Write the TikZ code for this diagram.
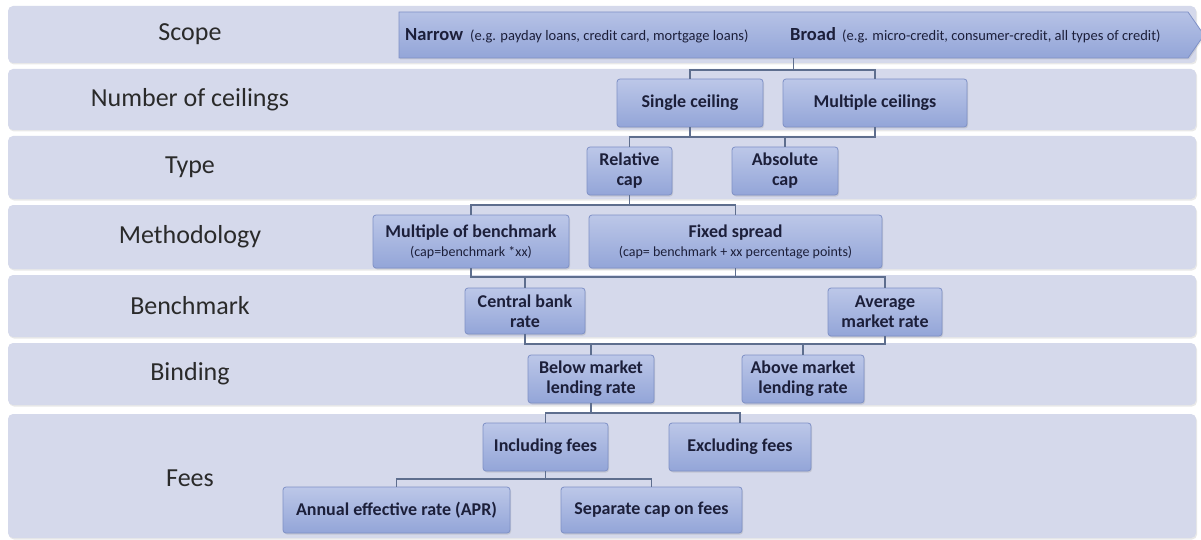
\documentclass[tikz,border=0pt]{standalone}
\usepackage{fontspec}
\setmainfont{Carlito}
\usetikzlibrary{shapes.symbols,shadows}
\definecolor{bandc}{HTML}{D5D9EB}
\definecolor{boxtop}{HTML}{BCC7E8}
\definecolor{boxbot}{HTML}{93A5D8}
\definecolor{boxborder}{HTML}{7F91C6}
\definecolor{boxtext}{HTML}{1C1F3A}
\definecolor{labtext}{HTML}{2A2A2A}
\definecolor{connc}{HTML}{5E6E8E}
\tikzset{
  band/.style={fill=bandc, rounded corners=5pt, drop shadow={opacity=0.18, shadow xshift=1pt, shadow yshift=-1.5pt}},
  lab/.style={text=labtext, font=\fontsize{26}{28}\selectfont, inner sep=0pt},
  cbox/.style={draw=boxborder, line width=0.8pt, rounded corners=3pt, top color=boxtop, bottom color=boxbot,
    font=\bfseries\fontsize{18}{20}\selectfont, text=boxtext, align=center, inner sep=0pt,
    drop shadow={opacity=0.22, shadow xshift=1pt, shadow yshift=-1.5pt}},
  conn/.style={draw=connc, line width=1.3pt},
  small/.style={font=\fontsize{14.5}{16}\selectfont, text=boxtext, inner sep=0pt, anchor=base west},
  big/.style={font=\bfseries\fontsize{18.5}{20}\selectfont, text=boxtext, inner sep=0pt, anchor=base west}
}
\begin{document}
\begin{tikzpicture}[x=1pt,y=-1pt]
\useasboundingbox (0,0) rectangle (1201,540);
\fill[white] (0,0) rectangle (1201,540);
% row bands
\foreach \t/\b in {6/63,69/130,136/199,205/269,275/337,343/405,414/538}
  \path[band] (8,\t) rectangle (1196,\b);
% row labels
\node[lab] (lscope) at (190,34.5) {Scope};
\node[lab] (lceil) at (190,99.5) {Number of ceilings};
\node[lab] (ltype) at (190,167.5) {Type};
\node[lab] (lmeth) at (190,237) {Methodology};
\node[lab] (lbench) at (190,306) {Benchmark};
\node[lab] (lbind) at (190,374) {Binding};
\node[lab] (lfees) at (190,478) {Fees};
% scope arrow
\node[signal, signal to=east, signal pointer angle=110, draw=boxborder, line width=0.8pt,
      top color=boxtop!85!boxbot, bottom color=boxbot, minimum width=805pt, minimum height=46pt,
      inner sep=0pt, drop shadow={opacity=0.2, shadow xshift=1pt, shadow yshift=-1.5pt}] (arrow) at (793.5,35) {};
\node[big] (narrow) at (405,41) {Narrow};
\node[small] (narrowx) at (470,41) {(e.g. payday loans, credit card, mortgage loans)};
\node[big] (broad) at (790,41) {Broad};
\node[small] (broadx) at (842,41) {(e.g. micro-credit, consumer-credit, all types of credit)};
% boxes
\node[cbox, minimum width=146pt, minimum height=48pt] (sc) at (690,103) {Single ceiling};
\node[cbox, minimum width=184pt, minimum height=48pt] (mc) at (875,103) {Multiple ceilings};
\node[cbox, minimum width=85pt, minimum height=48pt] (rc) at (629.5,171) {Relative\\cap};
\node[cbox, minimum width=106pt, minimum height=48pt] (ac) at (785,171) {Absolute\\cap};
\node[cbox, minimum width=196pt, minimum height=53pt] (mb) at (471,241.5) {Multiple of benchmark\\[-1pt]{\mdseries\fontsize{14}{16}\selectfont (cap=benchmark *xx)}};
\node[cbox, minimum width=293pt, minimum height=53pt] (fs) at (735.5,241.5) {Fixed spread\\[-1pt]{\mdseries\fontsize{14}{16}\selectfont (cap= benchmark + xx percentage points)}};
\node[cbox, minimum width=120pt, minimum height=46pt] (cb) at (525,311) {Central bank\\rate};
\node[cbox, minimum width=114pt, minimum height=48pt] (am) at (885,312) {Average\\market rate};
\node[cbox, minimum width=126pt, minimum height=48pt] (bm) at (591,379) {Below market\\lending rate};
\node[cbox, minimum width=122pt, minimum height=48pt] (ab) at (803,379) {Above market\\lending rate};
\node[cbox, minimum width=125pt, minimum height=48pt] (inc) at (545.5,447) {Including fees};
\node[cbox, minimum width=142pt, minimum height=48pt] (exc) at (740,447) {Excluding fees};
\node[cbox, minimum width=227pt, minimum height=46pt] (apr) at (396.5,510) {Annual effective rate (APR)};
\node[cbox, minimum width=181pt, minimum height=46pt] (sep) at (651.5,510) {Separate cap on fees};
% junctions
\coordinate (j1) at (793.5,70);
\coordinate (b2) at (690,137);
\coordinate (b3) at (629.5,205);
\coordinate (b4) at (471,277);
\coordinate (b5) at (525,344);
\coordinate (b6) at (591,413);
\coordinate (b7) at (545.5,479);
% connectors
\draw[conn] (arrow.south) -- (j1);
\draw[conn] (sc.north) |- (j1) -| (mc.north);
\draw[conn] (sc.south) -- (b2);
\draw[conn] (rc.north) |- (b2) -| (mc.south);
\draw[conn] (ac.north) -- (ac.north |- b2);
\draw[conn] (rc.south) -- (b3);
\draw[conn] (mb.north) |- (b3) -| (fs.north);
\draw[conn] (mb.south) -- (b4) -| (am.north);
\draw[conn] (fs.south) -- (fs.south |- b4);
\draw[conn] (cb.north) -- (cb.north |- b4);
\draw[conn] (cb.south) -- (b5) -| (am.south);
\draw[conn] (bm.north) -- (bm.north |- b5);
\draw[conn] (ab.north) -- (ab.north |- b5);
\draw[conn] (bm.south) -- (b6);
\draw[conn] (inc.north) |- (b6) -| (exc.north);
\draw[conn] (inc.south) -- (b7);
\draw[conn] (apr.north) |- (b7) -| (sep.north);
\end{tikzpicture}
\end{document}
